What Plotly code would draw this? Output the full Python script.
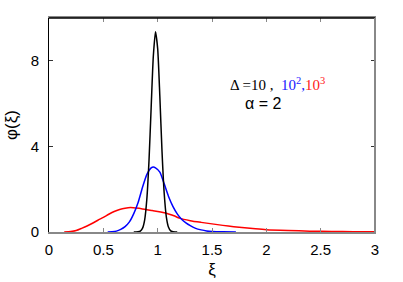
import plotly.graph_objects as go

# Black curve (Delta = 10)
x_black = [0.78, 0.80, 0.82, 0.84, 0.86, 0.88, 0.90, 0.92, 0.94, 0.96, 0.98, 1.00, 1.02, 1.04,
           1.06, 1.08, 1.10, 1.12, 1.14, 1.16, 1.18]
y_black = [0.0, 0.001, 0.008, 0.04, 0.17, 0.56, 1.52, 3.31, 5.81, 8.21, 9.36, 8.57, 6.34, 3.77,
           1.81, 0.70, 0.22, 0.05, 0.01, 0.0, 0.0]

# Blue curve (Delta = 10^2)
x_blue = [0.54, 0.58, 0.62, 0.66, 0.70, 0.74, 0.78, 0.82, 0.86, 0.90, 0.94, 0.96, 0.98, 1.02,
          1.06, 1.10, 1.14, 1.18, 1.22, 1.26, 1.30, 1.35, 1.40, 1.45, 1.50, 1.60, 1.72]
y_blue = [0.0, 0.01, 0.04, 0.12, 0.25, 0.47, 0.86, 1.38, 2.08, 2.68, 3.00, 3.04, 3.00, 2.80,
          2.25, 1.66, 1.20, 0.85, 0.60, 0.43, 0.30, 0.17, 0.10, 0.05, 0.025, 0.008, 0.0]

# Red curve (Delta = 10^3)
x_red = [0.14, 0.20, 0.25, 0.30, 0.35, 0.40, 0.45, 0.50, 0.55, 0.60, 0.65, 0.70, 0.75, 0.80,
         0.85, 0.90, 0.95, 1.00, 1.05, 1.10, 1.15, 1.20, 1.30, 1.40, 1.50, 1.60, 1.70, 1.80,
         1.90, 2.00, 2.20, 2.40, 2.60, 2.80, 3.00]
y_red = [0.0, 0.02, 0.07, 0.17, 0.28, 0.41, 0.55, 0.68, 0.83, 0.96, 1.05, 1.11, 1.14, 1.12,
         1.09, 1.04, 1.00, 0.96, 0.91, 0.84, 0.76, 0.65, 0.53, 0.45, 0.38, 0.31, 0.25, 0.20,
         0.15, 0.11, 0.07, 0.04, 0.025, 0.015, 0.01]

x_ticks = [0, 0.5, 1, 1.5, 2, 2.5, 3]
x_tick_labels = ["0", "0.5", "1", "1.5", "2", "2.5", "3"]
y_ticks = [0, 4, 8]
y_tick_labels = ["0", "4", "8"]

fig = go.Figure()
fig.add_trace(go.Scatter(x=x_red, y=y_red, mode="lines",
                         line=dict(color="#ff0000", width=1.5, shape="spline", smoothing=0.6)))
fig.add_trace(go.Scatter(x=x_blue, y=y_blue, mode="lines",
                         line=dict(color="#0000ff", width=1.5, shape="spline", smoothing=0.6)))
fig.add_trace(go.Scatter(x=x_black, y=y_black, mode="lines",
                         line=dict(color="#000000", width=1.5, shape="spline", smoothing=0.6)))

font_sans = "Liberation Sans, Arial, sans-serif"

fig.update_layout(
    width=403, height=282,
    margin=dict(l=49, r=28, t=18, b=50, autoexpand=False),
    paper_bgcolor="white", plot_bgcolor="white",
    showlegend=False,
    font=dict(family=font_sans, size=15, color="black"),
    xaxis=dict(range=[0, 3], tickvals=x_ticks, ticktext=x_tick_labels,
               ticks="inside", ticklen=4, tickcolor="#888888", ticklabelstandoff=3,
               showline=True, linecolor="#888888", linewidth=2, mirror="ticks",
               showgrid=False, zeroline=False, automargin=False,
               title=dict(text="ξ", font=dict(size=17), standoff=6)),
    yaxis=dict(range=[0, 10], tickvals=y_ticks, ticktext=y_tick_labels,
               ticks="inside", ticklen=4, tickcolor="#333333", ticklabelstandoff=6,
               showline=True, linecolor="#000000", linewidth=1, mirror="ticks",
               showgrid=False, zeroline=False, automargin=False,
               title=dict(text="φ(ξ)", font=dict(size=17), standoff=8)),
    shapes=[
        dict(type="line", xref="paper", yref="paper", x0=0, x1=1, y0=1, y1=1,
             line=dict(color="#000000", width=1.5), layer="above"),
        dict(type="line", xref="paper", yref="paper", x0=1, x1=1, y0=0, y1=1,
             line=dict(color="#888888", width=2), layer="above"),
    ],
    annotations=[
        dict(xref="paper", yref="paper", x=0.548, y=0.69, xanchor="left", yanchor="middle",
             showarrow=False,
             text="Δ =10 ,  <span style='color:#2020ff'>10<sup>2</sup>,</span>"
                  "<span style='color:#ff2020'>10<sup>3</sup></span>",
             font=dict(family="Liberation Serif, Times New Roman, serif", size=15, color="black")),
        dict(xref="paper", yref="paper", x=0.655, y=0.6, xanchor="center", yanchor="middle",
             showarrow=False, text="α = 2",
             font=dict(family=font_sans, size=16, color="black")),
    ],
)

fig.write_html("out.html", config={"displayModeBar": False},
               post_script="document.body.style.margin='0';document.body.style.overflow='hidden';")
